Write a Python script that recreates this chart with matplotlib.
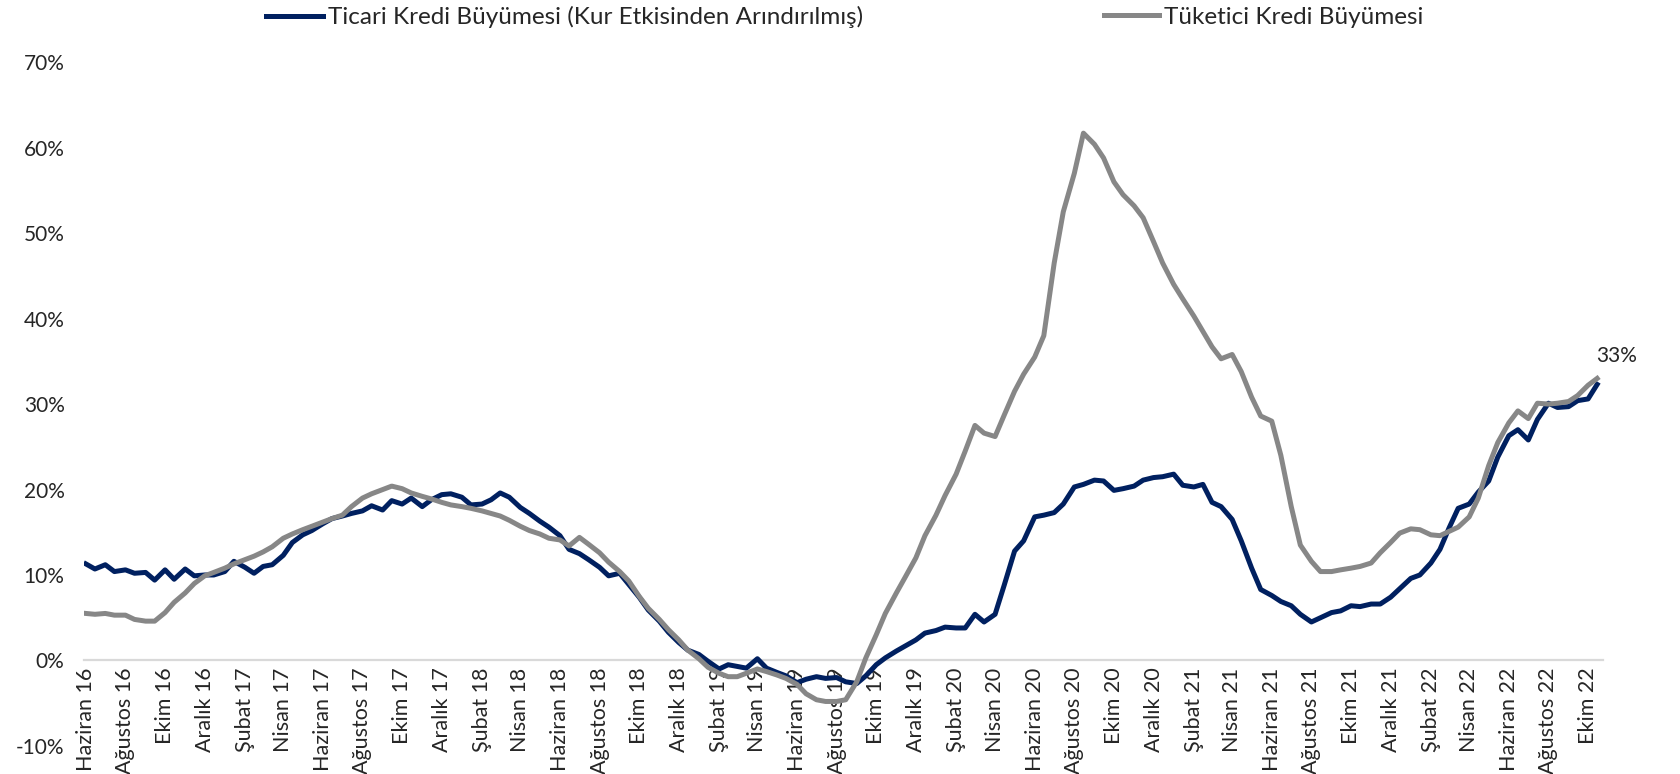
import matplotlib.pyplot as plt
import matplotlib.dates as mdates
import pandas as pd

plt.rcParams['font.family'] = ['Lato', 'DejaVu Sans']

# yarim aylik gozlemler, Haziran 2016 - Ekim 2022
tarihler = pd.date_range('2016-06-01', periods=154, freq='SMS')

# Ticari kredi buyumesi (kur etkisinden arindirilmis), %
ticari = [
    11.3, 10.7, 11.2, 10.4, 10.6, 10.2, 10.3, 9.4, 10.6, 9.5, 10.7, 9.9,
    10.0, 10.0, 10.4, 11.6, 10.9, 10.2, 11.0, 11.2, 12.3, 13.8, 14.7, 15.2,
    16.0, 16.6, 16.9, 17.2, 17.5, 18.1, 17.6, 18.7, 18.3, 19.0, 18.0, 18.8,
    19.4, 19.5, 19.1, 18.2, 18.3, 18.8, 19.6, 19.1, 17.9, 17.2, 16.3, 15.6,
    14.6, 13.0, 12.5, 11.8, 10.9, 9.9, 10.2, 8.9, 7.4, 5.9, 4.6, 3.3,
    2.1, 1.2, 0.7, -0.1, -1.0, -0.5, -0.7, -0.9, 0.2, -0.9, -1.4, -1.8,
    -2.6, -2.2, -1.9, -2.1, -2.0, -2.5, -2.7, -1.8, -0.5, 0.3, 1.1, 1.7,
    2.4, 3.2, 3.5, 3.9, 3.8, 3.8, 5.4, 4.5, 5.4, 8.8, 12.8, 14.0,
    16.8, 17.0, 17.3, 18.3, 20.3, 20.6, 21.1, 21.0, 19.9, 20.1, 20.4, 21.1,
    21.4, 21.5, 21.8, 20.5, 20.3, 20.6, 18.5, 18.0, 16.5, 14.0, 10.8, 8.3,
    7.6, 6.9, 6.4, 5.4, 4.5, 5.0, 5.6, 5.8, 6.4, 6.3, 6.6, 6.6,
    7.4, 8.4, 9.6, 10.0, 11.4, 13.0, 15.5, 17.8, 18.3, 19.7, 21.0, 23.8,
    26.3, 27.0, 25.8, 28.2, 30.1, 29.6, 29.7, 30.4, 30.6, 32.3,
]

# Tuketici kredi buyumesi, %
tuketici = [
    5.5, 5.4, 5.5, 5.3, 5.3, 4.8, 4.6, 4.6, 5.6, 6.8, 7.9, 9.0,
    9.9, 10.3, 10.8, 11.3, 11.8, 12.2, 12.7, 13.3, 14.3, 14.8, 15.3, 15.7,
    16.2, 16.6, 17.0, 18.0, 19.0, 19.5, 20.0, 20.4, 20.1, 19.6, 19.2, 18.9,
    18.5, 18.2, 18.0, 17.8, 17.5, 17.2, 16.9, 16.4, 15.7, 15.2, 14.8, 14.3,
    14.1, 13.4, 14.4, 13.6, 12.6, 11.5, 10.4, 9.3, 7.5, 6.1, 4.8, 3.6,
    2.4, 1.2, 0.2, -0.8, -1.5, -1.9, -1.9, -1.5, -1.0, -1.3, -1.7, -2.1,
    -2.8, -3.9, -4.6, -4.8, -4.8, -4.6, -2.5, 0.3, 3.0, 5.5, 7.9, 9.8,
    12.0, 14.6, 17.0, 19.3, 21.8, 24.5, 27.5, 26.6, 26.2, 28.7, 31.5, 33.5,
    35.5, 38.0, 46.5, 52.5, 57.0, 61.7, 60.4, 58.8, 56.0, 54.5, 53.2, 51.8,
    49.0, 46.5, 44.0, 42.3, 40.3, 38.5, 36.7, 35.3, 35.8, 33.8, 30.8, 28.6,
    28.0, 24.0, 18.0, 13.5, 11.6, 10.4, 10.4, 10.6, 10.8, 11.0, 11.4, 12.6,
    13.8, 14.9, 15.4, 15.3, 14.7, 14.6, 15.1, 15.6, 16.8, 19.0, 22.8, 25.5,
    27.8, 29.2, 28.3, 30.1, 30.0, 30.1, 30.3, 31.0, 32.2, 33.0,
]

etiket_tarihleri = pd.date_range('2016-06-01', '2022-10-01', freq='2MS')
etiketler = [
    'Haziran 16', 'Ağustos 16', 'Ekim 16', 'Aralık 16',
    'Şubat 17', 'Nisan 17', 'Haziran 17', 'Ağustos 17', 'Ekim 17', 'Aralık 17',
    'Şubat 18', 'Nisan 18', 'Haziran 18', 'Ağustos 18', 'Ekim 18', 'Aralık 18',
    'Şubat 19', 'Nisan 19', 'Haziran 19', 'Ağustos 19', 'Ekim 19', 'Aralık 19',
    'Şubat 20', 'Nisan 20', 'Haziran 20', 'Ağustos 20', 'Ekim 20', 'Aralık 20',
    'Şubat 21', 'Nisan 21', 'Haziran 21', 'Ağustos 21', 'Ekim 21', 'Aralık 21',
    'Şubat 22', 'Nisan 22', 'Haziran 22', 'Ağustos 22', 'Ekim 22',
]

lacivert = '#002060'
gri = '#878787'
yazi = '#262626'

fig = plt.figure(figsize=(16.81, 7.74), dpi=100)
ax = fig.add_axes([84 / 1681, 0.0363, (1603 - 84) / 1681, 0.8833])

l1, = ax.plot(tarihler, ticari, color=lacivert, lw=3.6, solid_joinstyle='round')
l2, = ax.plot(tarihler, tuketici, color=gri, lw=3.6, solid_joinstyle='round')

x0 = mdates.date2num(pd.Timestamp('2016-06-01'))
ax.set_xlim(x0 - 2.8, x0 + 2336)
ax.set_ylim(-10, 70)
ax.set_yticks(range(-10, 71, 10))
ax.set_yticklabels([f'{v}%' for v in range(-10, 71, 10)])

ax.set_xticks(mdates.date2num(etiket_tarihleri))
ax.set_xticklabels(etiketler)

for s in ['top', 'right', 'left']:
    ax.spines[s].set_visible(False)
ax.spines['bottom'].set_position(('data', 0))
ax.spines['bottom'].set_color('#d9d9d9')
ax.spines['bottom'].set_linewidth(1.6)
ax.spines['bottom'].set_zorder(0)

ax.tick_params(axis='x', length=0, pad=5, labelsize=15.5, labelcolor=yazi,
               labelrotation=90)
ax.tick_params(axis='y', length=0, pad=14, labelsize=15, labelcolor=yazi)
for t in ax.get_xticklabels():
    t.set_va('top')
    t.set_ha('center')

ax.annotate('33%', (tarihler[-1], tuketici[-1]), xytext=(14, 16),
            textcoords='offset points', ha='center', va='center',
            fontsize=15, color=yazi)

fig.legend([l1], ['Ticari Kredi Büyümesi (Kur Etkisinden Arındırılmış)'],
           loc='center left', bbox_to_anchor=(266 / 1681, 1 - 17 / 774),
           frameon=False, fontsize=17.5, handlelength=2.35, handletextpad=0.2,
           borderpad=0, borderaxespad=0, labelcolor=yazi)
fig.legend([l2], ['Tüketici Kredi Büyümesi'],
           loc='center left', bbox_to_anchor=(1104 / 1681, 1 - 17 / 774),
           frameon=False, fontsize=17.5, handlelength=2.25, handletextpad=0.2,
           borderpad=0, borderaxespad=0, labelcolor=yazi)

fig.savefig('out.png', dpi=100)
